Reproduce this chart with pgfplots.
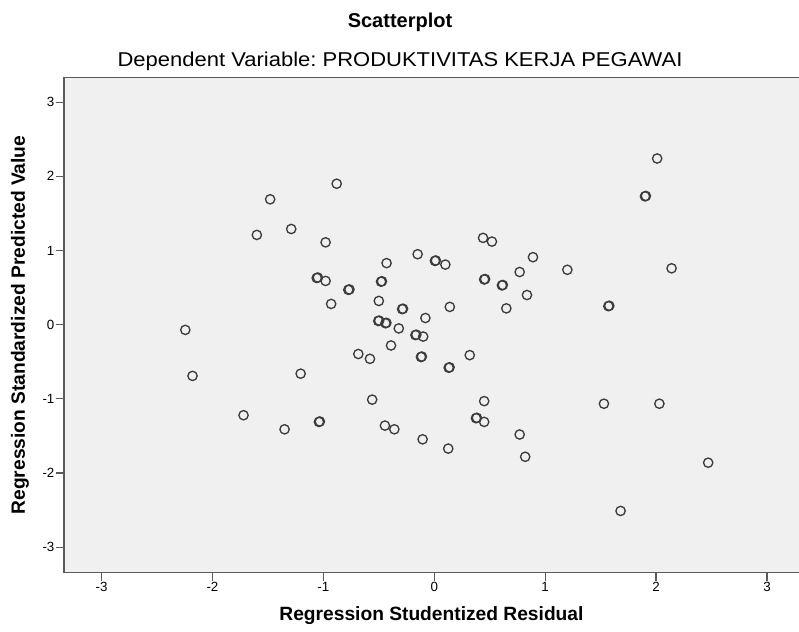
\documentclass[border=0pt]{standalone}
\usepackage{fontspec}
\setmainfont{Liberation Sans}
\newfontfamily\wideft[FakeStretch=1.1]{Liberation Sans}
\usepackage{pgfplots}
\pgfplotsset{compat=1.18}
\definecolor{plotbg}{RGB}{240,240,240}
\definecolor{ring}{RGB}{60,60,60}
\definecolor{frameline}{RGB}{90,90,90}
\frenchspacing

\begin{document}
\begin{tikzpicture}
\begin{axis}[
  scale only axis,
  width=551.25pt, height=371.5pt,
  xmin=-3.339, xmax=3.289,
  ymin=-3.342, ymax=3.334,
  axis background/.style={fill=plotbg},
  axis x line*=bottom, axis y line*=left,
  axis line style={frameline, line width=0.9pt},
  xtick={-3,...,3}, ytick={-3,...,3},
  tick align=outside, major tick length=6pt,
  tick style={frameline, line width=0.9pt},
  ticklabel style={font=\fontsize{10}{12}\selectfont},
  /pgf/number format/assume math mode=true,
  xticklabel style={inner sep=1pt},
  yticklabel style={inner sep=1pt},
  clip=false,
]
\addplot[only marks, mark=o, mark size=3.5pt, mark options={draw=ring, line width=1pt}] table {
x y
-0.88 1.90
-1.48 1.69
-1.60 1.21
-1.29 1.29
-0.98 1.11
-1.06 0.63
-1.05 0.635
-0.98 0.59
-0.775 0.47
-0.765 0.475
-0.93 0.28
-0.43 0.83
-0.48 0.58
-0.472 0.585
-0.50 0.32
-0.505 0.05
-0.497 0.055
-0.44 0.02
-0.432 0.025
-0.29 0.21
-0.282 0.215
-0.32 -0.05
-0.08 0.09
-0.17 -0.14
-0.162 -0.135
-0.10 -0.16
-0.15 0.95
0.006 0.86
0.014 0.865
0.10 0.81
0.14 0.24
0.44 1.17
0.52 1.12
0.45 0.61
0.458 0.615
0.61 0.53
0.618 0.535
0.65 0.22
-0.39 -0.28
-0.685 -0.395
-0.58 -0.46
-0.12 -0.435
-0.112 -0.43
0.13 -0.58
0.138 -0.575
0.32 -0.41
-1.205 -0.66
-1.72 -1.22
-1.35 -1.41
-1.04 -1.31
-1.032 -1.305
-0.56 -1.01
-0.445 -1.36
-0.36 -1.41
-0.105 -1.545
0.126 -1.67
0.45 -1.03
0.376 -1.26
0.384 -1.255
0.45 -1.31
-2.245 -0.07
-2.18 -0.69
2.01 2.24
1.90 1.73
1.908 1.735
0.89 0.91
0.77 0.71
1.20 0.74
2.14 0.76
0.836 0.40
1.57 0.25
1.578 0.255
1.53 -1.065
2.03 -1.065
0.77 -1.48
0.82 -1.78
2.47 -1.86
1.68 -2.51
};
\draw[frameline, line width=0.9pt] (rel axis cs:0,1) -- (rel axis cs:1,1);
\coordinate (bl) at (rel axis cs:0,0);
\coordinate (tr) at (rel axis cs:1,1);
\coordinate (tl) at (rel axis cs:0,1);
\end{axis}
% labels and titles
\node[font=\bfseries\fontsize{14.4}{17}\selectfont, anchor=base] at ([shift={(275.6pt,-36.2pt)}]bl) {Regression Studentized Residual};
\node[font=\bfseries\fontsize{14.4}{17}\selectfont, rotate=90, anchor=center] at ([shift={(-33pt,185.75pt)}]bl) {Regression Standardized Predicted Value};
\node[font=\wideft\fontsize{15}{18}\selectfont, anchor=base] at ([shift={(252pt,7.8pt)}]tl) {Dependent Variable: PRODUKTIVITAS KERJA PEGAWAI};
\node[font=\bfseries\fontsize{15}{18}\selectfont, anchor=base] at ([shift={(252pt,37.5pt)}]tl) {Scatterplot};
\pgfresetboundingbox
\path ([shift={(-48pt,-44.5pt)}]bl) rectangle ([shift={(0pt,58pt)}]tr);
\end{tikzpicture}
\end{document}
